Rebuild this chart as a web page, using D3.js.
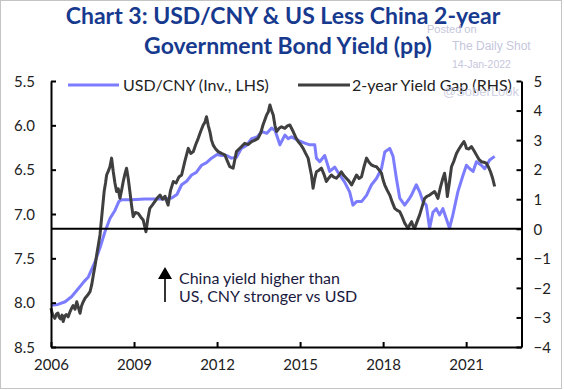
<!DOCTYPE html>
<html><head><meta charset="utf-8">
<script src="https://cdn.jsdelivr.net/npm/d3@7"></script>
<style>body{margin:0;background:#fff}svg{display:block}text{font-family:Lato,"Open Sans",sans-serif}</style>
</head><body><svg id="c" width="564" height="390"></svg>
<script>
const cnyYears=[2006.00,2006.25,2006.51,2006.75,2006.99,2007.20,2007.35,2007.59,2007.77,2007.95,2008.13,2008.31,2008.45,2008.55,2008.91,2009.39,2010.12,2010.36,2010.55,2010.72,2010.90,2011.08,2011.25,2011.44,2011.62,2011.80,2012.00,2012.16,2012.35,2012.52,2012.70,2012.88,2013.05,2013.25,2013.45,2013.61,2013.80,2013.97,2014.10,2014.27,2014.45,2014.57,2014.69,2014.93,2015.17,2015.35,2015.53,2015.59,2015.71,2015.89,2016.07,2016.25,2016.43,2016.61,2016.79,2016.91,2017.04,2017.22,2017.40,2017.58,2017.76,2017.94,2018.06,2018.24,2018.36,2018.48,2018.60,2018.78,2018.96,2019.02,2019.20,2019.32,2019.44,2019.56,2019.68,2019.80,2019.92,2020.04,2020.16,2020.28,2020.40,2020.52,2020.70,2020.89,2021.01,2021.13,2021.25,2021.37,2021.55,2021.67,2021.85,2022.03];
const cnyValues=[8.03,8.02,7.99,7.93,7.84,7.76,7.71,7.54,7.38,7.20,7.05,6.96,6.86,6.84,6.84,6.83,6.83,6.82,6.78,6.67,6.63,6.56,6.53,6.45,6.42,6.37,6.33,6.34,6.34,6.37,6.36,6.26,6.23,6.15,6.13,6.07,6.09,6.03,6.06,6.22,6.11,6.15,6.13,6.17,6.20,6.22,6.22,6.37,6.41,6.34,6.52,6.47,6.56,6.64,6.75,6.90,6.86,6.86,6.79,6.67,6.60,6.49,6.30,6.26,6.35,6.60,6.82,6.90,6.82,6.79,6.67,6.75,6.86,6.90,7.16,6.98,6.94,7.01,6.94,7.05,7.16,7.01,6.75,6.56,6.45,6.49,6.52,6.41,6.45,6.49,6.39,6.35];
const gapYears=[2006.00,2006.04,2006.08,2006.14,2006.20,2006.25,2006.30,2006.35,2006.40,2006.44,2006.50,2006.55,2006.62,2006.69,2006.75,2006.80,2006.87,2006.93,2007.00,2007.05,2007.10,2007.15,2007.23,2007.32,2007.41,2007.47,2007.53,2007.60,2007.65,2007.72,2007.77,2007.85,2007.92,2007.97,2008.01,2008.07,2008.13,2008.19,2008.25,2008.31,2008.37,2008.43,2008.49,2008.55,2008.61,2008.67,2008.73,2008.79,2008.85,2008.91,2008.97,2009.05,2009.15,2009.24,2009.33,2009.43,2009.50,2009.57,2009.66,2009.75,2009.85,2009.94,2010.03,2010.12,2010.23,2010.32,2010.42,2010.52,2010.62,2010.72,2010.84,2010.96,2011.05,2011.14,2011.23,2011.32,2011.41,2011.50,2011.56,2011.62,2011.68,2011.74,2011.80,2011.86,2011.95,2012.04,2012.16,2012.28,2012.37,2012.46,2012.58,2012.70,2012.85,2013.00,2013.12,2013.25,2013.37,2013.48,2013.58,2013.66,2013.79,2013.85,2013.91,2013.97,2014.03,2014.09,2014.15,2014.24,2014.33,2014.45,2014.54,2014.63,2014.75,2014.84,2014.93,2015.02,2015.11,2015.20,2015.29,2015.35,2015.41,2015.47,2015.53,2015.59,2015.68,2015.77,2015.86,2015.95,2016.04,2016.13,2016.22,2016.31,2016.40,2016.49,2016.58,2016.67,2016.76,2016.86,2016.95,2017.04,2017.13,2017.22,2017.31,2017.40,2017.49,2017.58,2017.67,2017.76,2017.85,2017.94,2018.00,2018.06,2018.15,2018.24,2018.33,2018.42,2018.51,2018.60,2018.69,2018.78,2018.84,2018.90,2018.97,2019.03,2019.08,2019.14,2019.23,2019.32,2019.41,2019.50,2019.59,2019.68,2019.77,2019.86,2019.92,2019.98,2020.07,2020.16,2020.22,2020.28,2020.32,2020.40,2020.47,2020.56,2020.65,2020.74,2020.83,2020.92,2020.97,2021.01,2021.10,2021.19,2021.28,2021.37,2021.46,2021.55,2021.64,2021.73,2021.80,2021.88,2021.96,2022.03];
const gapValues=[-2.69,-2.85,-2.95,-3.03,-2.88,-2.85,-3.00,-3.05,-2.92,-3.14,-2.95,-2.90,-2.98,-2.80,-2.68,-2.60,-2.72,-2.47,-2.70,-2.86,-2.62,-2.50,-2.35,-2.25,-2.13,-1.90,-1.56,-1.20,-0.89,-0.50,-0.21,0.58,1.26,1.55,1.82,1.95,2.10,2.39,1.93,1.55,1.26,1.35,1.03,1.30,1.60,1.85,2.05,1.70,1.26,0.80,0.41,0.55,0.52,0.40,0.30,-0.10,0.35,0.69,0.80,0.92,1.05,1.14,1.00,1.10,0.80,1.30,1.60,1.55,1.75,1.82,2.30,2.72,2.55,2.61,2.85,3.06,3.30,3.51,3.60,3.79,3.50,3.29,3.00,2.83,2.70,2.61,2.55,2.50,2.30,2.10,2.05,2.61,2.75,2.89,2.85,2.95,3.00,3.06,3.25,3.51,3.85,3.95,4.19,4.00,3.85,3.50,3.29,3.40,3.45,3.40,3.48,3.51,3.29,3.10,2.95,2.85,2.72,2.55,2.39,2.10,1.82,1.37,1.70,1.93,1.98,2.05,1.85,1.60,1.72,1.82,1.75,1.71,1.80,1.93,1.80,1.71,1.62,1.48,1.65,1.82,1.70,1.76,2.10,2.39,2.25,2.16,2.12,2.10,2.00,1.88,1.65,1.48,1.30,1.14,0.90,0.69,0.62,0.58,0.40,0.19,0.10,0.02,0.15,0.24,0.10,0.02,0.25,0.47,0.75,1.03,1.10,1.14,1.20,1.26,1.15,1.03,1.40,1.71,1.88,1.50,1.09,1.60,2.10,2.30,2.55,2.70,2.83,2.95,2.85,2.72,2.70,2.78,2.65,2.50,2.35,2.27,2.25,2.22,2.10,1.93,1.70,1.43];
const xTicks=[2006,2009,2012,2015,2018,2021];
const leftTicks=[5.5,6.0,6.5,7.0,7.5,8.0,8.5];
const rightTicks=[5,4,3,2,1,0,-1,-2,-3,-4];
const titleLines=["Chart 3: USD/CNY & US Less China 2-year","Government Bond Yield (pp)"];
const legendLabels=["USD/CNY (Inv., LHS)","2-year Yield Gap (RHS)"];
const noteLines=["China yield higher than","US, CNY stronger vs USD"];

const svg=d3.select("#c");
const X0=51,X1=521.5,Y0=81,Y1=347;
const x=d3.scaleLinear().domain([2006,2023]).range([X0,X1]);
const yL=d3.scaleLinear().domain([5.5,8.5]).range([Y0,Y1]);
const yR=d3.scaleLinear().domain([5,-4]).range([Y0,Y1]);
const BLUE="#7C7CFF",DARK="#3F3F3F",TXT="#222";

svg.append("rect").attr("x",0.5).attr("y",0.5).attr("width",561).attr("height",388).attr("fill","none").attr("stroke","#c4c4c4");

// title
svg.selectAll(".tt").data(titleLines).join("text").attr("class","tt")
 .attr("x",(d,i)=>i?288:283).attr("y",(d,i)=>i?54:24).attr("text-anchor","middle")
 .attr("font-size",23).attr("font-weight","bold").attr("fill","#173A8E").text(d=>d);

// watermark
const wm=svg.append("g").attr("fill","#c6c6dc");
wm.append("text").attr("x",427).attr("y",33).attr("font-size",11).style("font-family","Liberation Sans, Arial").text("Posted on");
wm.append("text").attr("x",452).attr("y",50).attr("font-size",12).style("font-family","Liberation Sans, Arial").text("The Daily Shot");
wm.append("text").attr("x",452).attr("y",68).attr("font-size",10.5).style("font-family","Liberation Sans, Arial").text("14-Jan-2022");

// lines
const lineL=d3.line().x(d=>x(d[0])).y(d=>yL(d[1]));
const lineR=d3.line().x(d=>x(d[0])).y(d=>yR(d[1]));
svg.append("path").datum(d3.zip(cnyYears,cnyValues)).attr("d",lineL).attr("fill","none").attr("stroke",BLUE).attr("stroke-width",3).attr("stroke-linejoin","round");
svg.append("path").datum(d3.zip(gapYears,gapValues)).attr("d",lineR).attr("fill","none").attr("stroke",DARK).attr("stroke-width",3).attr("stroke-linejoin","round");

// zero line
svg.append("line").attr("x1",X0).attr("x2",X1).attr("y1",yR(0)).attr("y2",yR(0)).attr("stroke","#000").attr("stroke-width",2);

// axes
const gx=svg.append("g").attr("transform",`translate(0,${Y1})`).call(d3.axisBottom(x).tickValues(xTicks).tickFormat(d3.format("d")).tickSizeInner(-5).tickSizeOuter(0));
const gl=svg.append("g").attr("transform",`translate(${X0},0)`).call(d3.axisLeft(yL).tickValues(leftTicks).tickFormat(d3.format(".1f")).tickSizeInner(-5).tickSizeOuter(0));
const gr=svg.append("g").attr("transform",`translate(${X1},0)`).call(d3.axisRight(yR).tickValues(rightTicks).tickFormat(d3.format("d")).tickSizeInner(-5).tickSizeOuter(0));
[gx,gl,gr].forEach(g=>{g.select(".domain").attr("stroke","#000").attr("stroke-width",2);g.selectAll(".tick line").attr("stroke","#000").attr("stroke-width",2);g.selectAll("text").attr("font-size",15).attr("fill",TXT).style("font-family","Lato, sans-serif");});
gx.selectAll("text").attr("dy",0).attr("y",23);
gl.selectAll("text").attr("x",-16).attr("dy","0.35em");
gr.selectAll("text").attr("x",12).attr("dy","0.35em");

// legend
const lg=svg.append("g");
lg.append("line").attr("x1",68).attr("x2",119).attr("y1",85).attr("y2",85).attr("stroke",BLUE).attr("stroke-width",3);
lg.append("text").attr("x",123).attr("y",90.5).attr("font-size",16).attr("fill",TXT).text(legendLabels[0]);
lg.append("line").attr("x1",298).attr("x2",350).attr("y1",85).attr("y2",85).attr("stroke",DARK).attr("stroke-width",3);
lg.append("text").attr("x",352).attr("y",90.5).attr("font-size",16).attr("fill",TXT).text(legendLabels[1]);

// @SoberLook watermark
svg.append("text").attr("x",443).attr("y",96).attr("font-size",13).attr("fill","#c6c6dc").style("font-family","Liberation Sans, Arial").attr("opacity",0.8).text("@SoberLook");

// annotation
svg.append("line").attr("x1",165).attr("x2",165).attr("y1",276).attr("y2",302).attr("stroke","#000").attr("stroke-width",1.6);
svg.append("path").attr("d","M158,279 L165,267 L172,279 Z").attr("fill","#000");
svg.selectAll(".nt").data(noteLines).join("text").attr("class","nt").attr("x",179).attr("y",(d,i)=>284+i*18).attr("font-size",16).attr("fill","#1a1a40").text(d=>d);
</script></body></html>
